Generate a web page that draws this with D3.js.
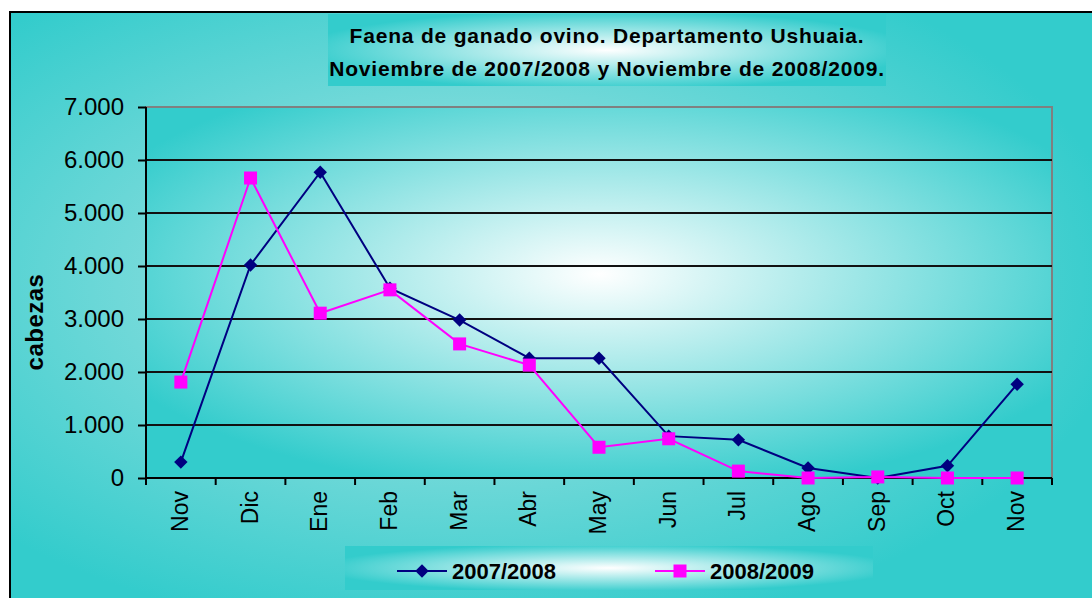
<!DOCTYPE html>
<meta charset="utf-8">
<style>
    body { margin: 0; background: #fff; }
    text { font-family: "Liberation Sans", Arial, sans-serif; fill: #000; }
    .grid line { stroke: #111; stroke-width: 2px; }
    .axis path, .axis line { stroke: #000; stroke-width: 2px; }
</style>
<svg width="1092" height="598"></svg>
<script src="https://d3js.org/d3.v7.min.js"></script>
<script>
    const months = ["Nov", "Dic", "Ene", "Feb", "Mar", "Abr", "May", "Jun", "Jul", "Ago", "Sep", "Oct", "Nov"]
    const serie0708 = [300, 4020, 5770, 3580, 2980, 2260, 2260, 790, 720, 190, 0, 230, 1770]
    const serie0809 = [1810, 5660, 3110, 3550, 2530, 2130, 580, 740, 130, 0, 20, 0, 0]
    const yTicks = [0, 1000, 2000, 3000, 4000, 5000, 6000, 7000]
    const seriesNames = ["2007/2008", "2008/2009"]

    const svg = d3.select("svg")
    const defs = svg.append("defs")

    function radial(id, cx, cy, r, inner) {
        const g = defs.append("radialGradient").attr("id", id)
            .attr("cx", cx).attr("cy", cy).attr("r", r)
        g.append("stop").attr("offset", "0%").attr("stop-color", inner)
        g.append("stop").attr("offset", "100%").attr("stop-color", "#33cccc")
    }
    radial("bgOuter", "42%", "45%", "60%", "#b4e6e6")
    radial("bgPlot", "50%", "45%", "60%", "#ffffff")
    radial("bgTitle", "50%", "50%", "55%", "#ffffff")

    // outer frame
    svg.append("rect").attr("x", 10).attr("y", 12).attr("width", 1100).attr("height", 600)
        .attr("fill", "url(#bgOuter)").attr("stroke", "#000").attr("stroke-width", 2)

    const pLeft = 146, pRight = 1052, pTop = 107, pBottom = 478

    const x = d3.scaleBand().domain(d3.range(months.length)).range([pLeft, pRight])
    const y = d3.scaleLinear().domain([0, 7000]).range([pBottom, pTop])
    const cx = i => x(i) + x.bandwidth() / 2

    svg.append("rect").attr("x", pLeft).attr("y", pTop)
        .attr("width", pRight - pLeft).attr("height", pBottom - pTop)
        .attr("fill", "url(#bgPlot)").attr("stroke", "#808080").attr("stroke-width", 2)

    // grid lines
    svg.append("g").attr("class", "grid")
        .selectAll("line").data(yTicks.slice(1, -1)).enter().append("line")
        .attr("x1", pLeft).attr("x2", pRight)
        .attr("y1", d => y(d)).attr("y2", d => y(d))

    // y axis
    const yAxis = svg.append("g").attr("class", "axis")
        .attr("transform", `translate(${pLeft},0)`)
        .call(d3.axisLeft(y).tickValues(yTicks).tickSize(8).tickPadding(14)
            .tickFormat(d => d3.format(",")(d).replace(/,/g, ".")))
    yAxis.select(".domain").attr("d", `M0,${pTop}V${pBottom}`)
    yAxis.selectAll("text").style("font-size", "24px").attr("fill", "#000")

    // x axis: ticks at category boundaries
    const xa = svg.append("g").attr("class", "axis")
    xa.append("line").attr("x1", pLeft).attr("x2", pRight).attr("y1", pBottom).attr("y2", pBottom)
    xa.selectAll("line.tk").data(d3.range(months.length + 1)).enter().append("line")
        .attr("class", "tk")
        .attr("x1", d => pLeft + d * x.step()).attr("x2", d => pLeft + d * x.step())
        .attr("y1", pBottom).attr("y2", pBottom + 7)
    xa.selectAll("text").data(months).enter().append("text")
        .attr("transform", (d, i) => `translate(${cx(i) + 7},${pBottom + 13}) rotate(-90)`)
        .attr("text-anchor", "end")
        .style("font-size", "23px")
        .text(d => d)

    // y title
    svg.append("text")
        .attr("transform", "translate(43,322) rotate(-90)")
        .attr("text-anchor", "middle")
        .style("font-size", "24px").style("font-weight", "bold").style("letter-spacing", "0.5px")
        .text("cabezas")

    // lines and markers
    const line = d3.line().x((d, i) => cx(i)).y(d => y(d))
    svg.append("path").datum(serie0708).attr("d", line)
        .attr("fill", "none").attr("stroke", "#000080").attr("stroke-width", 2)
    svg.append("path").datum(serie0809).attr("d", line)
        .attr("fill", "none").attr("stroke", "#ff00ff").attr("stroke-width", 2)

    const diamond = d3.symbol().type(d3.symbolSquare).size(90)
    svg.append("g").selectAll("path").data(serie0708).enter().append("path")
        .attr("d", diamond)
        .attr("transform", (d, i) => `translate(${cx(i)},${y(d)}) rotate(45)`)
        .attr("fill", "#000080")
    svg.append("g").selectAll("rect").data(serie0809).enter().append("rect")
        .attr("x", (d, i) => cx(i) - 6.5)
        .attr("y", d => y(d) - 6.5)
        .attr("width", 13).attr("height", 13)
        .attr("fill", "#ff00ff")

    // title box
    svg.append("rect").attr("x", 328).attr("y", 14).attr("width", 558).attr("height", 72)
        .attr("fill", "url(#bgTitle)")
    const title = svg.append("text").attr("text-anchor", "middle")
        .style("font-size", "21px").style("font-weight", "bold").style("letter-spacing", "0.8px")
    title.append("tspan").attr("x", 607).attr("y", 43).text("Faena de ganado ovino. Departamento Ushuaia.")
    title.append("tspan").attr("x", 607).attr("y", 76).text("Noviembre de 2007/2008 y Noviembre de 2008/2009.")

    // legend box
    svg.append("rect").attr("x", 345).attr("y", 546).attr("width", 528).attr("height", 44)
        .attr("fill", "url(#bgTitle)")
    const lg = svg.append("g")
    const lx = [397, 655]
    lg.append("line").attr("x1", lx[0]).attr("x2", lx[0] + 50).attr("y1", 571).attr("y2", 571)
        .attr("stroke", "#000080").attr("stroke-width", 2)
    lg.append("path").attr("d", diamond).attr("transform", `translate(${lx[0] + 25},571) rotate(45)`)
        .attr("fill", "#000080")
    lg.append("line").attr("x1", lx[1]).attr("x2", lx[1] + 50).attr("y1", 571).attr("y2", 571)
        .attr("stroke", "#ff00ff").attr("stroke-width", 2)
    lg.append("rect").attr("x", lx[1] + 18.5).attr("y", 564.5).attr("width", 13).attr("height", 13)
        .attr("fill", "#ff00ff")
    lg.selectAll("text").data(seriesNames).enter().append("text")
        .attr("x", (d, i) => lx[i] + 55).attr("y", 579)
        .style("font-size", "22px").style("font-weight", "bold")
        .text(d => d)
</script>
